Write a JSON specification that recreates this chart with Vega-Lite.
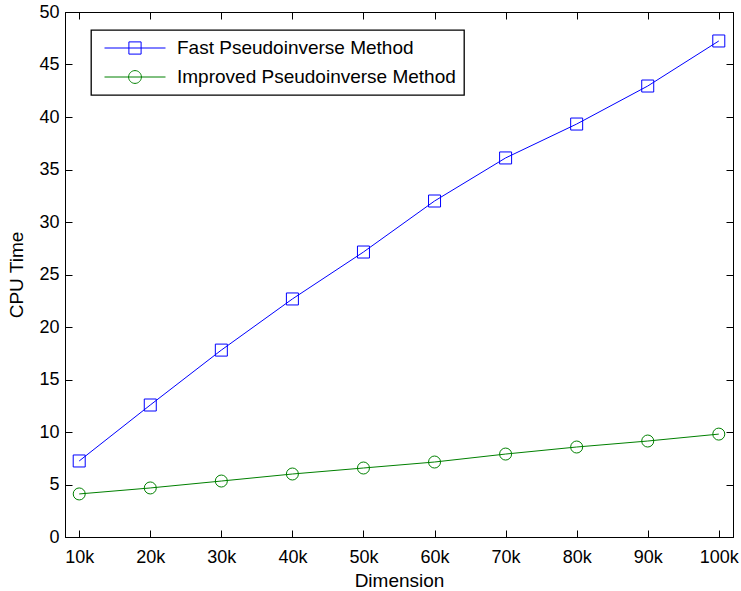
{
  "$schema": "https://vega.github.io/schema/vega-lite/v6.json",
  "width": 668,
  "height": 525,
  "autosize": {"type": "none"},
  "padding": {"left": 65, "top": 12, "right": 8, "bottom": 54},
  "background": "white",
  "config": {
    "view": {"stroke": "black", "strokeWidth": 1},
    "font": "Liberation Sans",
    "axis": {
      "grid": false,
      "domainColor": "black",
      "tickColor": "black",
      "labelColor": "black",
      "titleColor": "black",
      "labelFont": "Liberation Sans",
      "titleFont": "Liberation Sans",
      "labelFontSize": 18,
      "titleFontSize": 19,
      "titleFontWeight": "normal",
      "tickSize": -7,
      "tickWidth": 1,
      "domainWidth": 1
    }
  },
  "data": {
    "values": [
      {"dimension": 10000, "method": "Fast Pseudoinverse Method", "time": 7.24},
      {"dimension": 20000, "method": "Fast Pseudoinverse Method", "time": 12.57},
      {"dimension": 30000, "method": "Fast Pseudoinverse Method", "time": 17.8},
      {"dimension": 40000, "method": "Fast Pseudoinverse Method", "time": 22.67},
      {"dimension": 50000, "method": "Fast Pseudoinverse Method", "time": 27.14},
      {"dimension": 60000, "method": "Fast Pseudoinverse Method", "time": 32.0},
      {"dimension": 70000, "method": "Fast Pseudoinverse Method", "time": 36.1},
      {"dimension": 80000, "method": "Fast Pseudoinverse Method", "time": 39.33},
      {"dimension": 90000, "method": "Fast Pseudoinverse Method", "time": 42.95},
      {"dimension": 100000, "method": "Fast Pseudoinverse Method", "time": 47.24},
      {"dimension": 10000, "method": "Improved Pseudoinverse Method", "time": 4.1},
      {"dimension": 20000, "method": "Improved Pseudoinverse Method", "time": 4.67},
      {"dimension": 30000, "method": "Improved Pseudoinverse Method", "time": 5.33},
      {"dimension": 40000, "method": "Improved Pseudoinverse Method", "time": 6.0},
      {"dimension": 50000, "method": "Improved Pseudoinverse Method", "time": 6.57},
      {"dimension": 60000, "method": "Improved Pseudoinverse Method", "time": 7.14},
      {"dimension": 70000, "method": "Improved Pseudoinverse Method", "time": 7.9},
      {"dimension": 80000, "method": "Improved Pseudoinverse Method", "time": 8.57},
      {"dimension": 90000, "method": "Improved Pseudoinverse Method", "time": 9.14},
      {"dimension": 100000, "method": "Improved Pseudoinverse Method", "time": 9.8}
    ]
  },
  "layer": [
    {
      "mark": {"type": "line", "strokeWidth": 1},
      "encoding": {
        "x": {
          "field": "dimension", "type": "quantitative",
          "scale": {"domain": [8000, 102000], "nice": false, "zero": false},
          "axis": {
            "orient": "bottom",
            "title": "Dimension",
            "values": [10000, 20000, 30000, 40000, 50000, 60000, 70000, 80000, 90000, 100000],
            "labelExpr": "(datum.value / 1000) + 'k'",
            "labelPadding": 18,
            "titlePadding": 5
          }
        },
        "y": {
          "field": "time", "type": "quantitative",
          "scale": {"domain": [0, 50], "nice": false},
          "axis": {
            "orient": "left",
            "title": "CPU Time",
            "values": [0, 5, 10, 15, 20, 25, 30, 35, 40, 45, 50],
            "labelPadding": 13,
            "titlePadding": 12
          }
        },
        "color": {
          "field": "method", "type": "nominal",
          "scale": {"domain": ["Fast Pseudoinverse Method", "Improved Pseudoinverse Method"], "range": ["#0000ff", "#008000"]},
          "legend": {
            "title": null,
            "orient": "none",
            "legendX": 26,
            "legendY": 18,
            "direction": "vertical",
            "fillColor": "white",
            "strokeColor": "black",
            "padding": 8,
            "symbolSize": 3721,
            "symbolOffset": 5,
            "labelOffset": 11,
            "clipHeight": 20,
            "rowPadding": 9,
            "labelFont": "Liberation Sans",
            "labelFontSize": 19,
            "labelColor": "black",
            "labelLimit": 500,
            "encode": {
              "symbols": {
                "update": {
                  "shape": [
                    {"test": "datum.value === 'Fast Pseudoinverse Method'", "value": "M-1,0H1M-0.2,-0.2H0.2V0.2H-0.2Z"},
                    {"value": "M-1,0H1M0.21,0A0.21,0.21 0 1,1 -0.21,0A0.21,0.21 0 1,1 0.21,0"}
                  ],
                  "fill": {"value": "transparent"},
                  "strokeWidth": {"value": 1}
                }
              },
              "legend": {"update": {"strokeWidth": {"value": 1.3}}}
            }
          }
        }
      }
    },
    {
      "mark": {"type": "point", "filled": false, "strokeWidth": 1, "opacity": 1},
      "encoding": {
        "x": {
          "field": "dimension", "type": "quantitative",
          "axis": {
            "orient": "top", "title": null, "labels": false,
            "values": [10000, 20000, 30000, 40000, 50000, 60000, 70000, 80000, 90000, 100000]
          }
        },
        "y": {
          "field": "time", "type": "quantitative",
          "axis": {
            "orient": "right", "title": null, "labels": false,
            "values": [0, 5, 10, 15, 20, 25, 30, 35, 40, 45, 50]
          }
        },
        "color": {"field": "method", "type": "nominal", "legend": null},
        "shape": {
          "condition": {"test": "datum.method === 'Fast Pseudoinverse Method'", "value": "square"},
          "value": "circle"
        },
        "size": {"value": 144}
      }
    }
  ],
  "resolve": {"axis": {"x": "independent", "y": "independent"}}
}
